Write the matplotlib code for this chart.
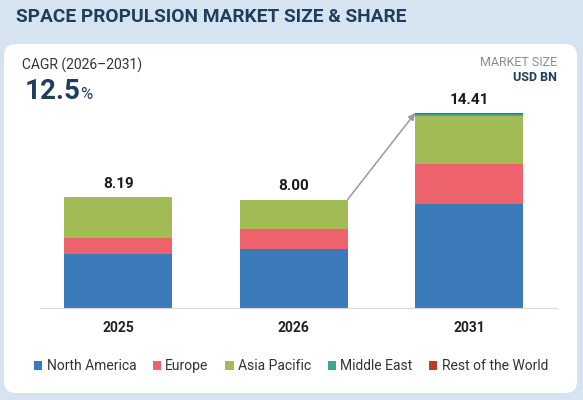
import numpy as np
import matplotlib
matplotlib.use("Agg")
import matplotlib.pyplot as plt
from matplotlib.patches import FancyBboxPatch, Patch

plt.rcParams['font.family'] = ['Roboto', 'DejaVu Sans']

# data (USD BN)
years = ['2025', '2026', '2031']
regions = ['North America', 'Europe', 'Asia Pacific', 'Middle East', 'Rest of the World']
north_america = [4.00, 4.35, 7.70]
europe = [1.18, 1.43, 2.91]
asia_pacific = [2.99, 2.20, 3.58]
middle_east = [0.01, 0.01, 0.15]
rest_of_world = [0.01, 0.01, 0.07]
totals = [8.19, 8.00, 14.41]

colors = ['#3b7bbb', '#ee636b', '#a1bb55', '#3aa88f', '#c0392b']
series = [north_america, europe, asia_pacific, middle_east, rest_of_world]

fig = plt.figure(figsize=(5.83, 4.0), dpi=100)
fig.patch.set_facecolor('#d6e4f1')

# white card (pixel coords)
card = FancyBboxPatch((4, 7), 573, 349, boxstyle='round,pad=0,rounding_size=12',
                      transform=None, facecolor='white', edgecolor='none', zorder=-10)
fig.patches.append(card)

fig.text(16 / 583, 1 - 21.7 / 400, 'SPACE PROPULSION MARKET SIZE & SHARE',
         fontsize=13.8, fontweight='bold', color='#1f3d5c', va='baseline')
fig.text(22 / 583, 1 - 70 / 400, 'CAGR (2026–2031)', fontsize=10,
         color='#333333', va='baseline')
fig.text(25 / 583, 1 - 99.3 / 400, '12.5', fontsize=20, fontweight='bold',
         color='#1f3d5c', va='baseline')
fig.text(80 / 583, 1 - 99.3 / 400, '%', fontsize=12, color='#1f3d5c', va='baseline')
fig.text(557 / 583, 1 - 66 / 400, 'MARKET SIZE', fontsize=9, color='#8c8c8c',
         ha='right', va='baseline')
fig.text(557 / 583, 1 - 80.7 / 400, 'USD BN', fontsize=9, fontweight='bold',
         color='#1f3d5c', ha='right', va='baseline')

ax = fig.add_axes([40 / 583, 1 - 307.5 / 400, 517 / 583, 216 / 400])
ax.set_facecolor('none')
x = np.arange(len(years))
width = 0.615
bottom = np.zeros(len(years))
for vals, col in zip(series, colors):
    ax.bar(x, vals, width, bottom=bottom, color=col, zorder=2)
    bottom += np.array(vals)

for xi, t in zip(x, totals):
    ax.annotate(f'{t:.2f}', (xi, t), xytext=(0, 6.5), textcoords='offset points',
                ha='center', va='baseline', fontsize=11, fontweight='bold', color='#1a1a1a')

# growth arrow
ax.annotate('', xy=(2 - width / 2, totals[2]), xytext=(1 + width / 2, totals[1]),
            arrowprops=dict(arrowstyle='-|>', color='#9a9a9a', lw=1.1,
                            shrinkA=0, shrinkB=0, mutation_scale=10))

ax.set_xlim(-0.445, 2.5)
ax.set_ylim(0, 16)
ax.set_xticks(x)
ax.set_xticklabels(years, fontsize=10, fontweight='bold', color='#222222')
ax.tick_params(axis='x', length=0, pad=10)
ax.set_yticks([])
for s in ['top', 'right', 'left']:
    ax.spines[s].set_visible(False)
ax.spines['bottom'].set_color('#d9d9d9')

handles = [Patch(facecolor=c, edgecolor='none') for c in colors]
fig.legend(handles, regions, loc='center', bbox_to_anchor=(291 / 583, 1 - 366 / 400),
           ncol=5, frameon=False, fontsize=10, handlelength=0.6, handleheight=0.6,
           handletextpad=0.3, columnspacing=1.2, labelcolor='#333333')

fig.savefig('out.png', dpi=100, facecolor=fig.get_facecolor())
